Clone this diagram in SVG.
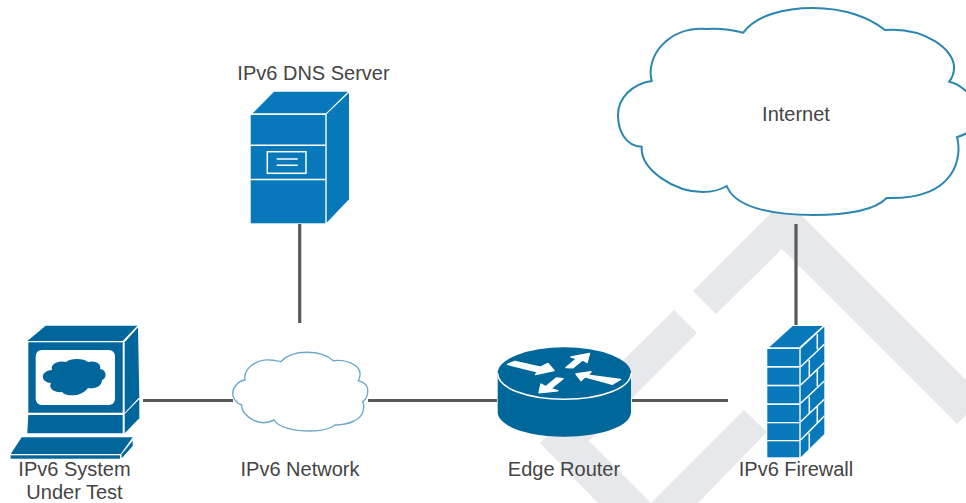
<svg xmlns="http://www.w3.org/2000/svg" width="966" height="503" viewBox="0 0 966 503">
<style>
text{font-family:"Liberation Sans",Arial,sans-serif;font-size:20px;fill:#444;text-anchor:middle}
.d{fill:#00669b}.s{fill:#0779ba}.r{fill:#00679a}
.w{fill:none;stroke:#fff;stroke-width:1.5}
.c{stroke:#595959;stroke-width:3.2;fill:none}
</style>
<rect width="966" height="503" fill="#fff"/>
<g id="watermark" fill="#e7e8ec">
<polygon points="693,291 716,314 782,249 957,424 966,415 966,380 808,222 785,199"/>
<polygon points="674,310 697,333 589,441 651,503 598,503 540,443"/>
<polygon points="744,410 767,432 698,503 651,503"/>
</g>
<g id="connectors" class="c">
<path class="c" d="M143 400.5H233M368 400.5H497M632 400.5H728M299.7 224V323M796 224V325"/>
</g>
<g id="internet">
<path d="M743.3 32.7C756 15 785 8 813 8C845 8 870 18 885 30C925 27 955 50 954 68C954 73 952 78 949.3 81.7C956 83 962 87 968 93C975 105 975 125 968 132C965 135 960 136 957 137C962 155 958 200 886.7 198C875 210 850 215 813 215C770 215 735 207 726.7 186C720 190 712 192 703 192C675 192 640 170 641.7 146.7C625 146 618 130 618 115C618 98 632 84 651.7 81C645 55 670 26 706.7 29C720 28 733 30 743.3 32.7Z" fill="#fff" stroke="#2a86b0" stroke-width="2"/>
<text x="796" y="121">Internet</text>
</g>
<g id="dns-server">
<polygon class="s" points="252.7,113.3 274,91.7 348,91.7 326,113.3"/>
<rect class="s" x="250.7" y="115" width="74.6" height="108.3"/>
<polygon class="s" points="326.7,114 349,92.7 349,199.3 326.7,222.7"/>
<path class="w" d="M250.7 145.2H325.3M250.7 179.5H325.3M276.7 159H297.7M276.7 165.3H297.7"/>
<rect class="w" x="267.3" y="151.7" width="38.7" height="21.6"/>
<text x="313.5" y="80">IPv6 DNS Server</text>
</g>
<g id="system-under-test">
<polygon class="d" points="27.3,341 45.7,325.7 137.3,325.7 122.7,341"/>
<rect class="d" x="28.3" y="342.3" width="94.4" height="70.4"/>
<rect x="35.7" y="350" width="79.3" height="55" rx="6" fill="#fff"/>
<path class="d" d="M52 370C50 364 58 360 66 362C70 358 84 358 88 362C94 360 102 363 100 369C106 369 108 378 102 380C102 387 94 389 88 388C82 397 66 397 62 392C54 393 48 388 51 383C40 382 40 371 52 370Z"/>
<polygon class="d" points="124.7,342.3 138,327.3 139.3,397.3 124.7,412.7"/>
<polygon class="d" points="28.3,415 122.7,415 122.7,433.3 27.3,433.3"/>
<polygon class="d" points="124.7,414 139.3,399.3 139.3,418.3 124.7,433.3"/>
<polygon class="d" points="21.7,437.3 132.7,437.3 120.7,454 10.7,454"/>
<rect class="d" x="10.7" y="455.3" width="109.3" height="3.4"/>
<polygon class="d" points="121.7,454.3 132.7,440.7 132.7,446 121.7,458.3"/>
<text x="74.5" y="476">IPv6 System</text>
<text x="74.5" y="499">Under Test</text>
</g>
<g id="ipv6-network">
<path d="M280.7 361.7C287 355 297 352.3 306.7 352.3C317 352.3 327 355 333.3 360.7C348 359 361 366 360 375C360 377 359 379 358.3 380.7C364 382 368 386 367.7 390C368 395 366 400 362.7 401.7C364 404 364 407 363.3 410C362 420 348 425 335 425C330 429 320 431 310 431C293 431 278 427 274 420C270 422 267 422.7 263.3 422.7C252 422 241 413 241.7 405C236 403 232.7 398 232.7 393.3C233 387 238 381 245 380C243 369 256 359 270 360C274 360 277 361 280.7 361.7Z" fill="#fff" stroke="#6fa9c9" stroke-width="1.4"/>
<text x="300" y="476">IPv6 Network</text>
</g>
<g id="edge-router">
<path class="r" d="M497.7 373V412C497.7 426 527 436.7 564.3 436.7C601.6 436.7 631 426 631 412V373Z"/>
<ellipse class="r" cx="564.3" cy="373.3" rx="66.7" ry="26"/>
<path class="w" d="M497.7 373.3C497.7 388 527 399.3 564.3 399.3C601.6 399.3 631 388 631 373.3" stroke-width="1.2"/>
<g fill="#fff" stroke="#fff" stroke-width="1.4" stroke-linejoin="round">
<polygon points="507.5,364.3 515,361.5 540.5,367.2 548,363.5 554,370.5 535.5,374.5 538,372"/>
<polygon points="566,367.5 576.5,358.7 571,357 589.5,353.5 587,362.5 582.5,360 573,367.8"/>
<polygon points="576,374 591,371.7 588,375.3 620.5,379.5 612.5,384.2 585,376.8 581,380.7"/>
<polygon points="539,392.7 541,384 545.7,386.7 556.3,378 563,378.7 551,388.5 558,390.8"/>
</g>
<text x="564" y="476">Edge Router</text>
</g>
<g id="firewall">
<polygon class="s" points="769.3,347.3 792.7,326 822.7,326 799.3,347.3"/>
<g class="s">
<rect x="767.3" y="349" width="32" height="17"/>
<rect x="767.3" y="367.7" width="32" height="17"/>
<rect x="767.3" y="386.3" width="32" height="17"/>
<rect x="767.3" y="405" width="32" height="17"/>
<rect x="767.3" y="423.3" width="32" height="16.7"/>
<rect x="767.3" y="441.3" width="32" height="16"/>
</g>
<polygon class="s" points="800.7,348.7 824.3,326.7 824.3,434 800.7,457.3"/>
<path class="w" d="M800.7 366.7L824.3 344.3M800.7 385L824.3 362.7M800.7 403.3L824.3 381M800.7 421.7L824.3 399.3M800.7 440L824.3 416M817.3 334V349.3M809.3 360V376.7M817.3 370V386M809.3 396.7V413.3M817.3 406.7V423.3M809.3 433.3V450"/>
<text x="796" y="476">IPv6 Firewall</text>
</g>
</svg>
